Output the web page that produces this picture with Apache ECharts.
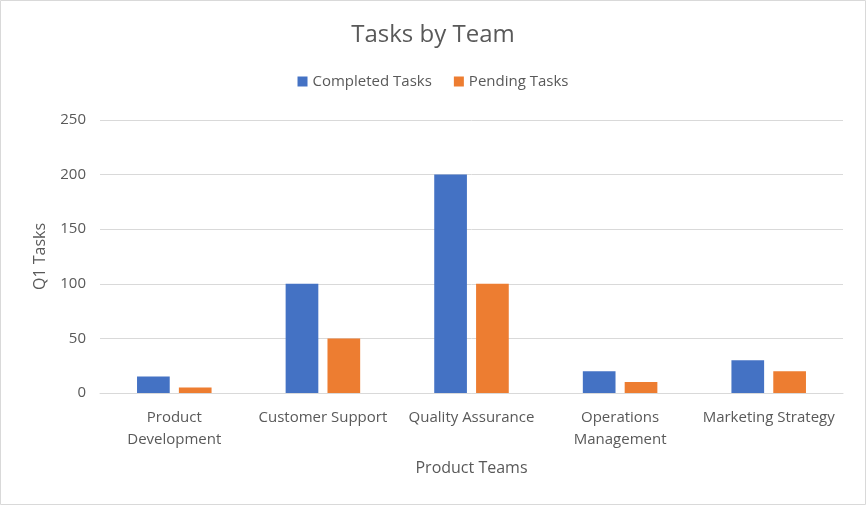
<!DOCTYPE html>
<html><head><meta charset="utf-8">
<script src="https://cdn.jsdelivr.net/npm/echarts@6/dist/echarts.min.js"></script>
<style>html,body{margin:0;padding:0;background:#fff}#c{width:866px;height:505px}</style>
</head><body><div id="c"></div>
<script>
const categories = ['Product\nDevelopment', 'Customer Support', 'Quality Assurance', 'Operations\nManagement', 'Marketing Strategy'];
const completedTasks = [15, 100, 200, 20, 30];
const pendingTasks = [5, 50, 100, 10, 20];
const seriesNames = ['Completed Tasks', 'Pending Tasks'];
const FONT = 'Open Sans';
const chart = echarts.init(document.getElementById('c'));
chart.setOption({
  animation: false,
  textStyle: { fontFamily: FONT },
  title: { text: 'Tasks by Team', left: 'center', top: 18,
    textStyle: { fontFamily: FONT, fontSize: 24, fontWeight: 'normal', color: '#595959' } },
  legend: { top: 69, left: 'center', itemWidth: 10, itemHeight: 10, itemGap: 22,
    icon: 'rect', textStyle: { fontFamily: FONT, fontSize: 15, color: '#595959' } },
  grid: { left: 100, right: 23, top: 120, bottom: 112, containLabel: false },
  xAxis: { type: 'category', data: categories, name: 'Product Teams', nameLocation: 'middle', nameGap: 67,
    nameTextStyle: { fontFamily: FONT, fontSize: 16, color: '#595959' },
    axisLine: { lineStyle: { color: '#d9d9d9' } }, axisTick: { show: false },
    axisLabel: { fontFamily: FONT, fontSize: 15, color: '#595959', margin: 14, lineHeight: 22, interval: 0 } },
  yAxis: { type: 'value', min: 0, max: 250, interval: 50, name: 'Q1 Tasks', nameLocation: 'middle', nameGap: 52,
    nameTextStyle: { fontFamily: FONT, fontSize: 16, color: '#595959' },
    axisLine: { show: false }, axisTick: { show: false },
    axisLabel: { fontFamily: FONT, fontSize: 15, color: '#595959', margin: 14 },
    splitLine: { lineStyle: { color: '#d9d9d9' } } },
  series: [
    { name: seriesNames[0], type: 'bar', data: completedTasks, barWidth: '22%', barGap: '28%', itemStyle: { color: '#4472c4' } },
    { name: seriesNames[1], type: 'bar', data: pendingTasks, barWidth: '22%', itemStyle: { color: '#ed7d31' } }
  ],
  graphic: [{ type: 'rect', shape: { x: 0.5, y: 0.5, width: 865, height: 504 }, style: { fill: 'none', stroke: '#d9d9d9', lineWidth: 1 }, silent: true }]
});
</script></body></html>
